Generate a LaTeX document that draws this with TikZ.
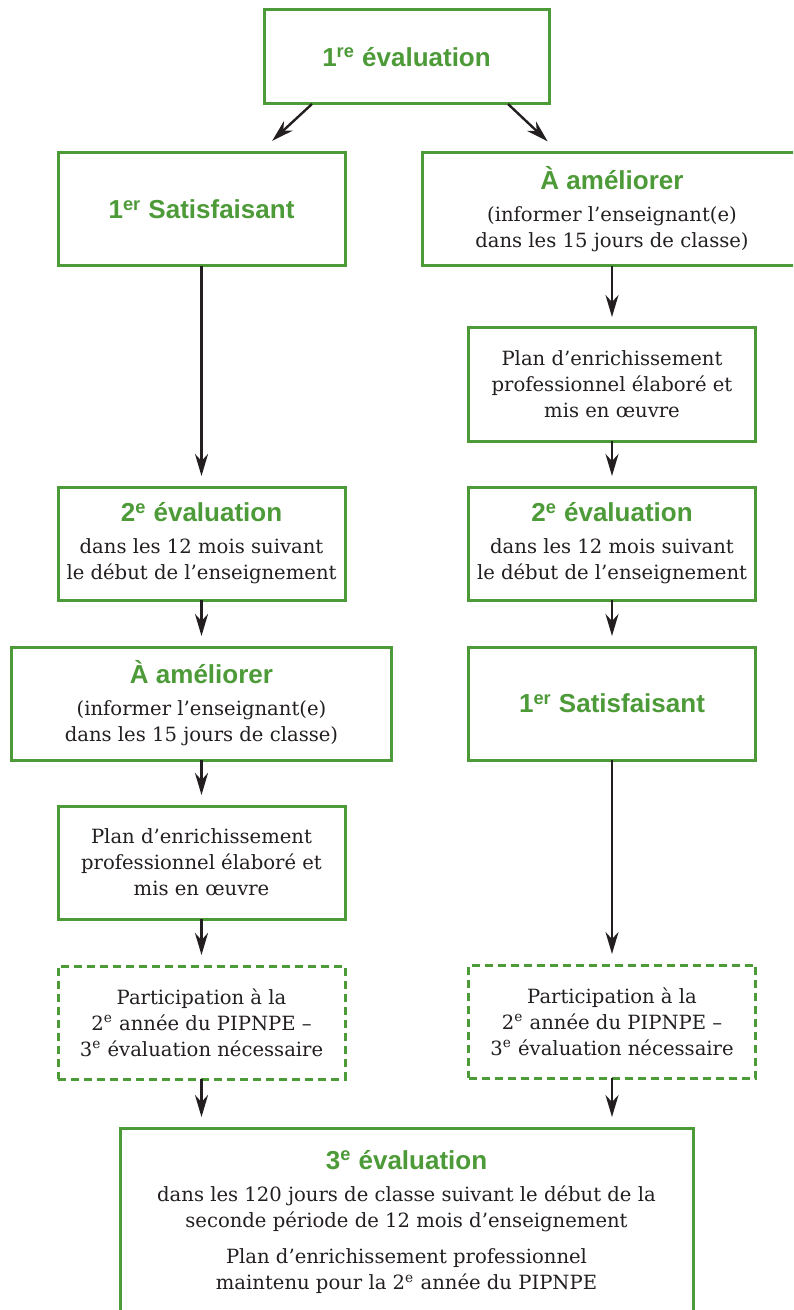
\documentclass[tikz,border=0pt]{standalone}
\usepackage{fontspec}
\setmainfont{DejaVu Serif}
\newfontfamily\piphead{Liberation Sans}
\usepackage{xcolor}
\definecolor{pipgreen}{HTML}{4D9A38}
\definecolor{pipink}{HTML}{231F20}
\usepackage{tikz}
\usetikzlibrary{arrows.meta,positioning}
\newcommand{\piptitle}[1]{{\piphead\bfseries\fontsize{13}{15.5}\selectfont\color{pipgreen}#1}}
\tikzset{
  pipbox/.style={draw=pipgreen,line width=1.5pt,fill=white,inner sep=0pt,outer sep=0pt,align=center,text=pipink,font=\fontsize{9.8}{13}\selectfont,minimum width=143.5pt,minimum height=56.5pt},
  pipwide/.style={pipbox,minimum width=190pt},
  pipdash/.style={pipbox,dash pattern=on 4pt off 2.5pt},
  pipflow/.style={-{Stealth[length=11pt,width=6.5pt,inset=3.5pt]},line width=1.2pt,draw=pipink,shorten >=5.5pt},
}

\begin{document}
\begin{tikzpicture}[x=0.5pt,y=-0.5pt]
\clip (0,0) rectangle (793,1310);
 % first evaluation and its two outcomes
\node[pipbox,minimum width=142.5pt,minimum height=47pt] (eval1) at (406.5,57) {\piptitle{1\textsuperscript{re} évaluation}};
\node[pipbox] (sat1) at (201.5,209.5) {\piptitle{1\textsuperscript{er} Satisfaisant}};
\node[pipwide,right=38.5pt of sat1] (amel1) {\piptitle{À améliorer}\\[3pt](informer l’enseignant(e)\\dans les 15 jours de classe)};
 % left branch
\node[pipbox,below=110.5pt of sat1] (evalL) {\piptitle{2\textsuperscript{e} évaluation}\\[3pt]dans les 12 mois suivant\\le début de l’enseignement};
\node[pipwide,below=23.5pt of evalL] (amel2) {\piptitle{À améliorer}\\[3pt](informer l’enseignant(e)\\dans les 15 jours de classe)};
\node[pipbox,below=23pt of amel2] (plan2) {Plan d’enrichissement\\professionnel élaboré et\\mis en œuvre};
\node[pipdash,below=23.5pt of plan2] (partL) {Participation à la\\2\textsuperscript{e} année du PIPNPE –\\3\textsuperscript{e} évaluation nécessaire};
 % right branch
\node[pipbox,below=31pt of amel1] (plan1) {Plan d’enrichissement\\professionnel élaboré et\\mis en œuvre};
\node[pipbox,below=23pt of plan1] (evalR) {\piptitle{2\textsuperscript{e} évaluation}\\[3pt]dans les 12 mois suivant\\le début de l’enseignement};
\node[pipbox,below=23.5pt of evalR] (sat2) {\piptitle{1\textsuperscript{er} Satisfaisant}};
\node[pipdash,below=102.5pt of sat2] (partR) {Participation à la\\2\textsuperscript{e} année du PIPNPE –\\3\textsuperscript{e} évaluation nécessaire};
 % third evaluation
\node[pipbox,anchor=north,minimum width=286.5pt,minimum height=130pt] (eval3) at (406.5,1128) {};
\node[align=center,inner sep=0pt,anchor=north,text=pipink,font=\fontsize{9.8}{13}\selectfont] (eval3txt) at ([yshift=-11pt]eval3.north) {\piptitle{3\textsuperscript{e} évaluation}\\[3pt]dans les 120 jours de classe suivant le début de la\\seconde période de 12 mois d’enseignement\\[5pt]Plan d’enrichissement professionnel\\maintenu pour la 2\textsuperscript{e} année du PIPNPE};

\draw[pipflow,shorten >=9pt]([xshift=-47.25pt]eval1.south) -- ([xshift=28.75pt]sat1.north);
\draw[pipflow,shorten >=8.5pt]([xshift=50.75pt]eval1.south) -- ([xshift=-26pt]amel1.north);
\draw[pipflow](sat1) -- (evalL);
\draw[pipflow](evalL) -- (amel2);
\draw[pipflow](amel2) -- (plan2);
\draw[pipflow](plan2) -- (partL);
\draw[pipflow](amel1) -- (plan1);
\draw[pipflow](plan1) -- (evalR);
\draw[pipflow](evalR) -- (sat2);
\draw[pipflow](sat2) -- (partR);
\draw[pipflow](partL) -- (partL |- eval3.north);
\draw[pipflow](partR) -- (partR |- eval3.north);
\end{tikzpicture}
\end{document}
